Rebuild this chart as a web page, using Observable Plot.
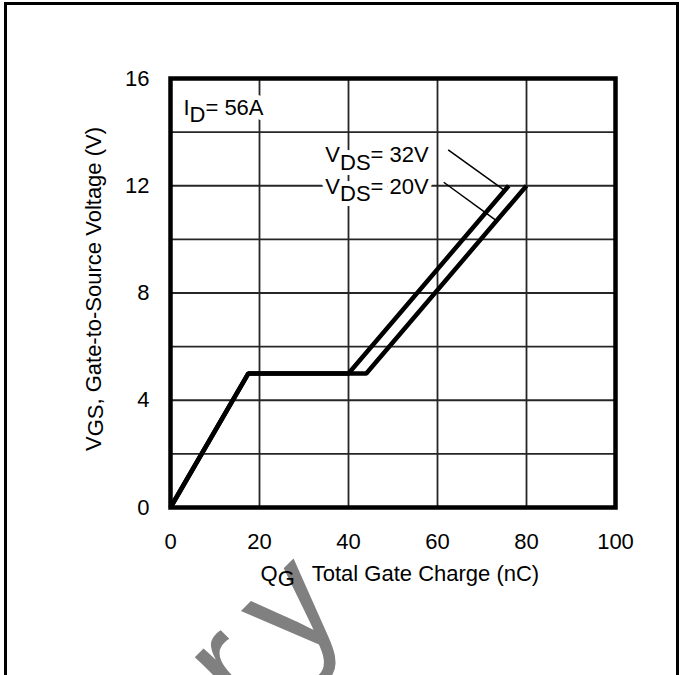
<!DOCTYPE html>
<html>
<head>
<meta charset="utf-8">
<script src="https://cdn.jsdelivr.net/npm/d3@7"></script>
<script src="https://cdn.jsdelivr.net/npm/@observablehq/plot@0.6"></script>
<style>
  html, body { margin: 0; padding: 0; background: #fff; }
  #chart { position: relative; width: 683px; height: 675px; overflow: hidden; }
  #chart svg { display: block; }
  #border { position: absolute; left: 4px; top: 2px; width: 669px; height: 720px;
            border: 3px solid #000; border-bottom: none; pointer-events: none; }
</style>
</head>
<body>
<div id="chart"><div id="border"></div></div>
<script>
// Gate charge curves: VGS (V) against total gate charge QG (nC), ID = 56 A
const chargeVds32 = [0, 17.5, 40, 76];
const vgsVds32    = [0, 5, 5, 12];
const chargeVds20 = [0, 17.5, 44, 80];
const vgsVds20    = [0, 5, 5, 12];

// Axis ticks and grid lines
const xTicks = [0, 20, 40, 60, 80, 100];
const yTicks = [0, 4, 8, 12, 16];
const xGrid  = [20, 40, 60, 80];
const yGrid  = [2, 4, 6, 8, 10, 12, 14];

// Leader lines from the VDS labels to their curves
const leaderStartQ = [62.4, 61.4];
const leaderStartV = [13.34, 12.13];
const leaderEndQ   = [74.9, 73.0];
const leaderEndV   = [11.85, 10.73];

// Annotation labels; parts flagged 1 are drawn as subscripts
const labelQ = [2.9, 34.8, 34.8];
const labelV = [14.92, 13.13, 11.97];
const labelParts = [
  [["I", 0], ["D", 1], ["= 56A", 0]],
  [["V", 0], ["DS", 1], ["= 32V", 0]],
  [["V", 0], ["DS", 1], ["= 20V", 0]]
];

// Axis titles, same part notation
const xTitle = [["Q", 0], ["G", 1], ["Total Gate Charge (nC)", 0]];
const yTitle = [["V", 0], ["GS", 1], [", Gate-to-Source Voltage (V)", 0]];

// Document watermark
const watermark = ["Preliminary"];

const curves = [
  ...chargeVds32.map((q, i) => ({series: "VDS = 32V", q, v: vgsVds32[i]})),
  ...chargeVds20.map((q, i) => ({series: "VDS = 20V", q, v: vgsVds20[i]}))
];
const leaders = leaderStartQ.map((q, i) => ({
  q1: q, v1: leaderStartV[i], q2: leaderEndQ[i], v2: leaderEndV[i]
}));
const plain = parts => parts.map(p => p[0]).join("");
const annotations = labelParts.map((parts, i) => ({q: labelQ[i], v: labelV[i], parts}));

const font = "'Liberation Sans', Arial, Helvetica, sans-serif";

const chart = Plot.plot({
  width: 683,
  height: 675,
  marginLeft: 170,
  marginRight: 68,
  marginTop: 78,
  marginBottom: 168,
  style: {fontFamily: font, fontSize: "22px", color: "#000", background: "transparent", overflow: "hidden"},
  x: {domain: [0, 100], ticks: xTicks, tickSize: 0, tickPadding: 26, label: null, tickFormat: d => String(d)},
  y: {domain: [0, 16], ticks: yTicks, tickSize: 0, tickPadding: 21, label: null, tickFormat: d => String(d)},
  marks: [
    Plot.text(watermark, {
      frameAnchor: "bottom-left", dx: 197, dy: 89, rotate: -45,
      textAnchor: "end", fontSize: 150, fill: "#808080", text: d => d
    }),
    Plot.ruleX(xGrid, {stroke: "#262626", strokeWidth: 1.8}),
    Plot.ruleY(yGrid, {stroke: "#262626", strokeWidth: 1.8}),
    Plot.line(curves, {
      x: "q", y: "v", z: "series", stroke: "#000", strokeWidth: 4.5,
      strokeLinejoin: "miter", strokeLinecap: "butt"
    }),
    Plot.link(leaders, {x1: "q1", y1: "v1", x2: "q2", y2: "v2", stroke: "#000", strokeWidth: 1.5}),
    // white knock-out behind the labels, then the labels themselves
    Plot.text(annotations, {
      x: "q", y: "v", text: d => plain(d.parts), textAnchor: "start",
      fill: "#fff", stroke: "#fff", strokeWidth: 10, strokeLinejoin: "round"
    }),
    Plot.text(annotations, {
      x: "q", y: "v", text: d => plain(d.parts), textAnchor: "start", fill: "#000"
    }),
    Plot.frame({stroke: "#000", strokeWidth: 4.5}),
    Plot.text([xTitle], {
      frameAnchor: "bottom-left", dx: 90, dy: 73, textAnchor: "start",
      text: plain, fill: "#000"
    }),
    Plot.text([yTitle], {
      frameAnchor: "left", dx: -77, dy: -4, rotate: -90, textAnchor: "middle",
      text: plain, fill: "#000"
    })
  ]
});

// Rebuild a text element from its parts, lowering subscripts by `shift` em
function setParts(el, parts, shift, gap) {
  el.textContent = "";
  let offset = 0;
  parts.forEach(([t, sub], k) => {
    const ts = document.createElementNS("http://www.w3.org/2000/svg", "tspan");
    const target = sub ? shift : 0;
    if (target !== offset) ts.setAttribute("dy", (target - offset) + "em");
    offset = target;
    if (gap && k === parts.length - 1) ts.setAttribute("dx", gap);
    ts.textContent = t;
    el.appendChild(ts);
  });
}

const rich = new Map();
annotations.forEach(a => rich.set(plain(a.parts), [a.parts, 0.33, null]));
rich.set(plain(xTitle), [xTitle, 0.27, "17px"]);
rich.set(plain(yTitle), [yTitle, 0.13, null]);

chart.querySelectorAll("text").forEach(el => {
  const entry = rich.get(el.textContent);
  if (entry) setParts(el, entry[0], entry[1], entry[2]);
  if (el.textContent === watermark[0]) el.style.letterSpacing = "25px";
});

document.getElementById("chart").prepend(chart);
</script>
</body>
</html>
